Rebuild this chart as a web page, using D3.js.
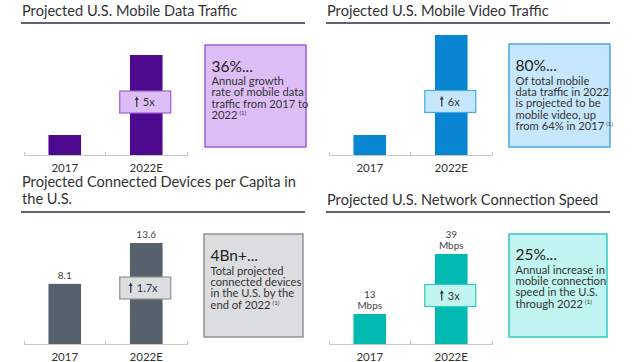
<!DOCTYPE html>
<html>
<head>
<meta charset="utf-8">
<script src="https://cdn.jsdelivr.net/npm/d3@7"></script>
<style>
  body { margin: 0; background: #fff; }
  svg text { font-family: Lato, "Open Sans", sans-serif; }
</style>
</head>
<body>
<div id="root"></div>
<script>
// data
const years = ["2017", "2022E"]
const dataTraffic = [1, 5]        // indexed, 2017 = 1
const videoTraffic = [1, 6]       // indexed, 2017 = 1
const devicesPerCapita = [8.1, 13.6]
const connectionSpeed = [13, 39]  // Mbps
const multipliers = ["5x", "6x", "1.7x", "3x"]
const titles = [
  ["Projected U.S. Mobile Data Traffic"],
  ["Projected U.S. Mobile Video Traffic"],
  ["Projected Connected Devices per Capita in", "the U.S."],
  ["Projected U.S. Network Connection Speed"]
]
const headlines = ["36%...", "80%...", "4Bn+...", "25%..."]
const calloutLines = [
  ["Annual growth", "rate of mobile data", "traffic from 2017 to", "2022"],
  ["Of total mobile", "data traffic in 2022", "is projected to be", "mobile video, up", "from 64% in 2017"],
  ["Total projected", "connected devices", "in the U.S. by the", "end of 2022"],
  ["Annual increase in", "mobile connection", "speed in the U.S.", "through 2022"]
]
const valueLabels = [null, null, [["8.1"], ["13.6"]], [["13", "Mbps"], ["39", "Mbps"]]]

// panel layout
const panels = [
  {values: dataTraffic, x0: 22, titleY: 16, ruleY: 23, base: 155, top: 55, mulY: 102,
   box: [205, 45, 101, 102], headY: 72, lineY: 85,
   bar: "#4e0a8f", fill: "#ddbdf6", stroke: "#9c5fd2"},
  {values: videoTraffic, x0: 327, titleY: 16, ruleY: 23, base: 155, top: 35, mulY: 101.5,
   box: [509, 44, 101, 103], headY: 71, lineY: 84.5,
   bar: "#0886d1", fill: "#c6e7fb", stroke: "#4aa8e2"},
  {values: devicesPerCapita, x0: 22, titleY: 187, ruleY: 212, base: 344, top: 243, mulY: 288,
   box: [204, 234, 99, 103], headY: 261, lineY: 274.5,
   bar: "#56616b", fill: "#dcdddf", stroke: "#8e9398"},
  {values: connectionSpeed, x0: 327, titleY: 205, ruleY: 212, base: 344, top: 254, mulY: 295.5,
   box: [509, 234, 98, 103], headY: 260, lineY: 273.5,
   bar: "#00b9b1", fill: "#c0f5f1", stroke: "#33c9c1"}
]

const svg = d3.select("#root").append("svg")
  .attr("width", 640).attr("height", 362)

panels.forEach((p, i) => {
  const g = svg.append("g")

  // title + rule
  titles[i].forEach((t, k) => {
    g.append("text").attr("x", p.x0).attr("y", p.titleY + k * 17)
      .attr("font-size", 14.6).attr("fill", "#333").text(t)
  })
  g.append("line").attr("x1", p.x0 - 1).attr("x2", p.x0 + 283)
    .attr("y1", p.ruleY).attr("y2", p.ruleY)
    .attr("stroke", "#5b6670").attr("stroke-width", 2)

  const x = d3.scaleBand().domain(years)
    .range([p.x0 + 2, p.x0 + 165]).paddingInner(0.6).paddingOuter(0.3)
  const y = d3.scaleLinear().domain([0, d3.max(p.values)]).range([p.base, p.top])

  // axis
  const axis = g.append("g").attr("transform", `translate(0,${p.base})`)
    .call(d3.axisBottom(x).tickSize(0).tickSizeOuter(-3).tickPadding(9))
  axis.select(".domain").attr("stroke", "#c8c8c8")
  axis.selectAll("text").attr("font-size", 11.5).attr("fill", "#333")
    .attr("font-family", "Lato, sans-serif")
  const mid = (x.range()[0] + x.range()[1]) / 2
  axis.append("line").attr("x1", mid).attr("x2", mid).attr("y1", 0).attr("y2", -3)
    .attr("stroke", "#c8c8c8")

  // bars
  g.selectAll(".bar").data(p.values).enter().append("rect")
    .attr("x", (d, k) => x(years[k]))
    .attr("y", d => y(d))
    .attr("width", x.bandwidth())
    .attr("height", d => p.base - y(d))
    .attr("fill", p.bar)

  // value labels
  if (valueLabels[i]) {
    valueLabels[i].forEach((lines, k) => {
      const cx = x(years[k]) + x.bandwidth() / 2
      const yTop = y(p.values[k])
      lines.forEach((l, j) => {
        g.append("text").attr("x", cx)
          .attr("y", yTop - 5 - (lines.length - 1 - j) * 11)
          .attr("text-anchor", "middle").attr("font-size", 10).attr("fill", "#444").text(l)
      })
    })
  }

  // multiplier badge on the second bar
  const cx = x(years[1]) + x.bandwidth() / 2
  const bw = 51, bh = 22
  g.append("rect").attr("x", cx - bw / 2 - 1).attr("y", p.mulY - bh / 2)
    .attr("width", bw).attr("height", bh)
    .attr("fill", p.fill).attr("stroke", p.stroke).attr("stroke-width", 1.2)
  const tw = multipliers[i].length * 6
  const ax = cx - (tw + 7) / 2
  g.append("path")
    .attr("d", `M${ax},${p.mulY + 5}V${p.mulY - 3}`)
    .attr("stroke", "#333").attr("stroke-width", 1.2)
  g.append("path")
    .attr("d", `M${ax - 2},${p.mulY - 2}L${ax},${p.mulY - 5.5}L${ax + 2},${p.mulY - 2}Z`)
    .attr("fill", "#333")
  g.append("text").attr("x", ax + 6).attr("y", p.mulY + 4)
    .attr("font-size", 11).attr("fill", "#333").text(multipliers[i])

  // callout box
  const [bx, by, bwid, bht] = p.box
  g.append("rect").attr("x", bx).attr("y", by).attr("width", bwid).attr("height", bht)
    .attr("fill", p.fill).attr("stroke", p.stroke).attr("stroke-width", 1.5)
  g.append("text").attr("x", bx + 6.5).attr("y", p.headY)
    .attr("font-size", 15.5).attr("fill", "#222").text(headlines[i])
  calloutLines[i].forEach((l, k) => {
    const t = g.append("text").attr("x", bx + 6.5).attr("y", p.lineY + k * 11.4)
      .attr("font-size", 11.2).attr("fill", "#333").text(l)
    if (k === calloutLines[i].length - 1) {
      t.append("tspan").attr("font-size", 6).attr("dx", 2).attr("dy", -4).text("(1)")
    }
  })
})
</script>
</body>
</html>
